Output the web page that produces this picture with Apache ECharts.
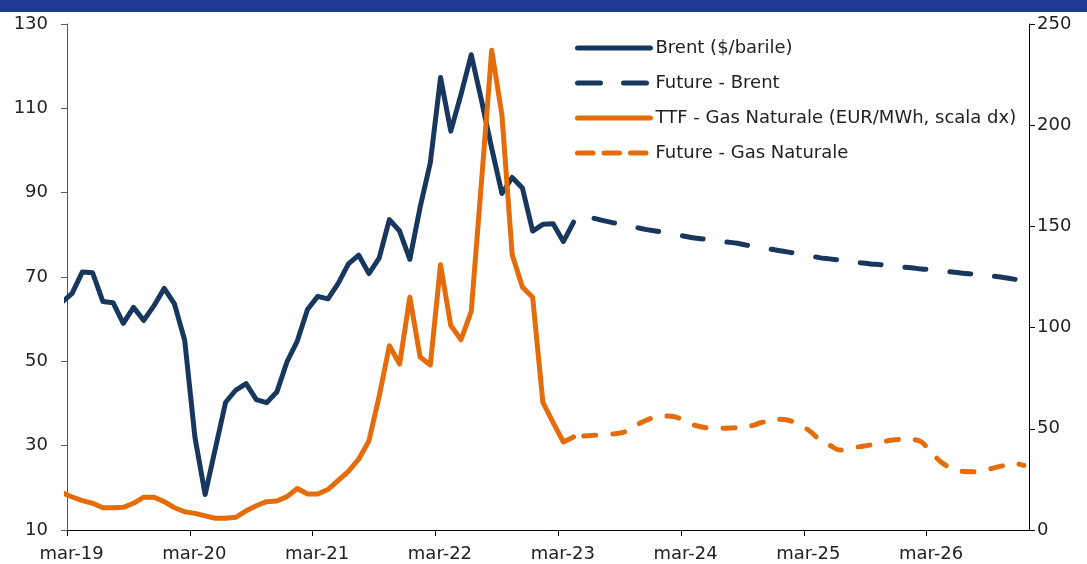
<!DOCTYPE html>
<html><head><meta charset="utf-8">
<script src="https://cdn.jsdelivr.net/npm/echarts@6/dist/echarts.min.js"></script>
<style>html,body{margin:0;padding:0;background:#fff}#c{width:1087px;height:564px}</style>
</head><body><div id="c"></div>
<script>
// X axis tick labels (one per year, every 12 months starting Mar-2019)
const xTickLabels = ['mar-19','mar-20','mar-21','mar-22','mar-23','mar-24','mar-25','mar-26'];
const axisMonths = 94; // Mar-2019 .. end of Dec-2026
// month offsets relative to Mar-2019
const histStart = -1;        // Feb-2019
const brentFutureStart = 51; // Jun-2023
const ttfFutureStart = 50;   // May-2023

const seriesNames = ['Brent ($/barile)', 'Future - Brent', 'TTF - Gas Naturale (EUR/MWh, scala dx)', 'Future - Gas Naturale'];

// Brent, $/barrel, monthly Feb-19 .. Apr-23
const brentHist = [64.0, 66.1, 71.2, 71.0, 64.2, 63.9, 59.0, 62.8, 59.7, 63.2, 67.3,
  63.6, 55.0, 32.0, 18.4, 29.4, 40.3, 43.2, 44.7, 40.9, 40.2, 42.7, 49.9,
  54.8, 62.3, 65.4, 64.8, 68.5, 73.1, 75.2, 70.8, 74.5, 83.6, 80.9, 74.2,
  86.5, 97.1, 117.3, 104.6, 113.3, 122.7, 111.9, 100.5, 89.8, 93.6, 91.1, 80.9,
  82.5, 82.6, 78.4, 83.0];
// Brent futures, monthly Jun-23 .. Dec-26
const brentFuture = [83.9, 83.3, 82.8, 82.3, 81.8, 81.3, 80.9, 80.5, 80.1,
  79.6, 79.2, 78.9, 78.6, 78.3, 78.0, 77.5, 77.1, 76.7, 76.3, 75.9, 75.5,
  75.1, 74.6, 74.3, 74.0, 73.7, 73.4, 73.1, 72.9, 72.6, 72.4, 72.2, 71.9,
  71.7, 71.4, 71.2, 70.9, 70.7, 70.5, 70.2, 69.9, 69.5, 69.0];
// TTF gas, EUR/MWh, monthly Feb-19 .. Apr-23
const ttfHist = [18.5, 16.3, 14.5, 13.2, 11.0, 11.0, 11.2, 13.2, 16.2, 16.2, 14.0,
  11.0, 9.0, 8.2, 7.0, 5.8, 5.8, 6.3, 9.5, 12.0, 14.0, 14.3, 16.5,
  20.5, 17.8, 17.8, 20.0, 24.5, 29.0, 35.0, 44.0, 66.0, 91.0, 82.0, 115.0,
  85.5, 81.5, 131.0, 101.0, 94.0, 108.0, 172.0, 237.0, 205.0, 136.0, 120.0, 115.0,
  63.0, 53.0, 43.5, 46.0];
// TTF futures, monthly May-23 .. Dec-26
const ttfFuture = [46.4, 46.8, 47.2, 47.5, 48.5, 51.5, 54.0, 55.8, 56.3, 55.8,
  53.5, 51.5, 50.5, 50.2, 50.3, 50.6, 51.0, 52.5, 54.0, 54.7, 54.2, 52.2,
  49.2, 44.8, 42.0, 39.5, 40.5, 41.2, 42.0, 43.3, 44.3, 44.8, 44.8, 43.5,
  38.0, 33.2, 30.2, 29.0, 28.8, 29.2, 30.6, 31.8, 33.0, 31.9];

const NAVY = '#17375E', ORANGE = '#E46C0A';
const FONT = 'DejaVu Sans';

function toPoints(vals, start) { return vals.map((v, k) => [start + k + 0.5, v]); }
const tickMonths = xTickLabels.map((_, k) => k * 12);

const chart = echarts.init(document.getElementById('c'), null, {renderer: 'canvas'});
chart.setOption({
  animation: false,
  backgroundColor: '#fff',
  graphic: [{type: 'rect', left: 0, top: 0, shape: {width: 1087, height: 12}, style: {fill: '#1F3A93'}, z: 10}],
  grid: {left: 67, right: 58, top: 24, bottom: 34, containLabel: false},
  legend: {
    orient: 'vertical', left: 570, top: 32, itemWidth: 73, itemHeight: 22, itemGap: 13,
    textStyle: {fontFamily: FONT, fontSize: 18, color: '#222', lineHeight: 22},
    itemStyle: {color: 'rgba(0,0,0,0)', borderColor: 'rgba(0,0,0,0)', borderWidth: 0, opacity: 0},
    lineStyle: {width: 5, cap: 'round'},
    data: [
      {name: seriesNames[0], lineStyle: {width: 5, type: 'solid', cap: 'round'}},
      {name: seriesNames[1], lineStyle: {width: 5, type: [23, 23], dashOffset: 0, cap: 'round'}},
      {name: seriesNames[2], lineStyle: {width: 5, type: 'solid', cap: 'round'}},
      {name: seriesNames[3], lineStyle: {width: 5, type: [15.5, 11], dashOffset: 0, cap: 'round'}}
    ]
  },
  xAxis: {
    type: 'value', min: 0, max: axisMonths,
    axisLine: {show: true, lineStyle: {color: '#000', width: 1}},
    axisTick: {show: true, customValues: tickMonths, length: 6, lineStyle: {color: '#000'}},
    axisLabel: {customValues: tickMonths, formatter: v => xTickLabels[Math.round(v / 12)],
      margin: 15, fontFamily: FONT, fontSize: 18, color: '#222', padding: [0, 0, 0, 9]},
    splitLine: {show: false}
  },
  yAxis: [
    {type: 'value', position: 'left', min: 10, max: 130, interval: 20,
      axisLine: {show: true, lineStyle: {color: '#595959'}},
      axisTick: {show: true, length: 6, lineStyle: {color: '#595959'}},
      axisLabel: {margin: 19, fontFamily: FONT, fontSize: 18, color: '#222'},
      splitLine: {show: false}},
    {type: 'value', position: 'right', min: 0, max: 250, interval: 50,
      axisLine: {show: true, lineStyle: {color: '#000'}},
      axisTick: {show: true, length: 6, lineStyle: {color: '#000'}},
      axisLabel: {margin: 8, fontFamily: FONT, fontSize: 18, color: '#222'},
      splitLine: {show: false}}
  ],
  series: [
    {name: seriesNames[0], type: 'line', yAxisIndex: 0, symbol: 'none', clip: true,
      data: toPoints(brentHist, histStart), color: NAVY,
      lineStyle: {color: NAVY, width: 5, cap: 'round', join: 'round'}},
    {name: seriesNames[1], type: 'line', yAxisIndex: 0, symbol: 'none', clip: true,
      data: toPoints(brentFuture, brentFutureStart), color: NAVY, smooth: 0.3,
      lineStyle: {color: NAVY, width: 5, type: [21, 24], cap: 'round', join: 'round'}},
    {name: seriesNames[2], type: 'line', yAxisIndex: 1, symbol: 'none', clip: true,
      data: toPoints(ttfHist, histStart), color: ORANGE,
      lineStyle: {color: ORANGE, width: 5, cap: 'round', join: 'round'}},
    {name: seriesNames[3], type: 'line', yAxisIndex: 1, symbol: 'none', clip: true,
      data: toPoints(ttfFuture, ttfFutureStart), color: ORANGE, smooth: 0.3,
      lineStyle: {color: ORANGE, width: 5, type: [12, 17], cap: 'round', join: 'round'}}
  ]
});
</script>
</body></html>
